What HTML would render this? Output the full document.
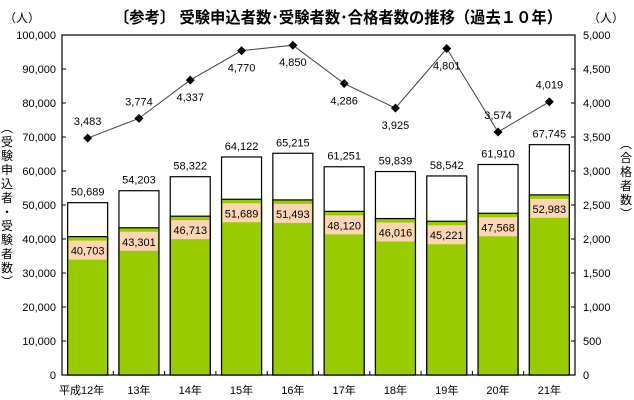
<!DOCTYPE html>
<html><head><meta charset="utf-8"><style>
body{margin:0;background:#fff;}
svg{display:block;font-family:"Liberation Sans","Noto Sans CJK JP",sans-serif;}
</style></head><body>
<svg id="c" width="634" height="400" viewBox="0 0 634 400">
<text x="338" y="23" text-anchor="middle" font-size="16" font-weight="bold" textLength="448" lengthAdjust="spacingAndGlyphs">〔参考〕 受験申込者数･受験者数･合格者数の推移（過去１０年）</text>
<text x="22" y="22" text-anchor="middle" font-size="12">（人）</text>
<text x="606" y="22" text-anchor="middle" font-size="12">（人）</text>
<g id="g"></g>
</svg>
<script>
const categories=["平成12年","13年","14年","15年","16年","17年","18年","19年","20年","21年"];
const applicants=[50689,54203,58322,64122,65215,61251,59839,58542,61910,67745];
const examinees=[40703,43301,46713,51689,51493,48120,46016,45221,47568,52983];
const passers=[3483,3774,4337,4770,4850,4286,3925,4801,3574,4019];
const leftTicks=[0,10000,20000,30000,40000,50000,60000,70000,80000,90000,100000];
const rightTicks=[0,500,1000,1500,2000,2500,3000,3500,4000,4500,5000];
const labelBelow=[false,false,true,true,true,true,true,true,false,false];
const NS="http://www.w3.org/2000/svg";
const g=document.getElementById('g');
const L=62,R=575,T=35,B=375;
const cw=(R-L)/categories.length;
const xc=i=>L+cw*(i+0.5);
const yl=v=>B-(v/100000)*(B-T);
const yr=v=>B-(v/5000)*(B-T);
const fmt=v=>v.toLocaleString('en-US');
function el(t,a,txt){const e=document.createElementNS(NS,t);for(const k in a)e.setAttribute(k,a[k]);if(txt!==undefined)e.textContent=txt;g.appendChild(e);return e;}
let e;
e=el('rect',{x:L,y:T,width:R-L,height:B-T,fill:'#fff',stroke:'#000','stroke-width':1.2});


leftTicks.forEach(v=>{
 e=el('text',{x:L-6,y:yl(v)+4,'text-anchor':'end','font-size':11},fmt(v));
 
 
 el('line',{x1:L,x2:L+4,y1:yl(v),y2:yl(v),stroke:'#000'});
});
rightTicks.forEach(v=>{
 e=el('text',{x:R+8,y:yr(v)+4,'text-anchor':'start','font-size':11},fmt(v));
 
 
 el('line',{x1:R-4,x2:R,y1:yr(v),y2:yr(v),stroke:'#000'});
});
for(let i=1;i<categories.length;i++){el('line',{x1:L+cw*i,x2:L+cw*i,y1:B,y2:B-4,stroke:'#000'});}
const bw=40;
categories.forEach((c,i)=>{
 const x=xc(i)-bw/2;
 e=el('rect',{x:x,y:yl(applicants[i]),width:bw,height:B-yl(applicants[i]),fill:'#fff',stroke:'#000','stroke-width':1.2});
 
 
 e=el('rect',{x:x,y:yl(examinees[i]),width:bw,height:B-yl(examinees[i]),fill:'#99cc00',stroke:'#000','stroke-width':1.2});
 
 
 e=el('text',{x:xc(i),y:yl(applicants[i])-7,'text-anchor':'middle','font-size':11},fmt(applicants[i]));
 
 
 e=el('rect',{x:xc(i)-19,y:yl(examinees[i])+4,width:38,height:19,fill:'#fcd5b4'});
 
 
 e=el('text',{x:xc(i),y:yl(examinees[i])+18,'text-anchor':'middle','font-size':11},fmt(examinees[i]));
 
 
 e=el('text',{x:xc(i)+(i===0?-6:0),y:394,'text-anchor':'middle','font-size':11},c);
 
 
});
e=el('polyline',{points:passers.map((v,i)=>xc(i)+','+yr(v)).join(' '),fill:'none',stroke:'#444','stroke-width':1});


passers.forEach((v,i)=>{
 const x=xc(i),y=yr(v);
 e=el('polygon',{points:`${x},${y-4.5} ${x+4.5},${y} ${x},${y+4.5} ${x-4.5},${y}`,fill:'#000'});
 
 
 e=el('text',{x:x,y:labelBelow[i]?y+21:y-13,'text-anchor':'middle','font-size':11},fmt(v));
 
 
});
function vtext(chars,x,y0,name){
 const t=el('text',{x:x,'font-size':12,'text-anchor':'middle'});
 
 
 chars.split('').forEach((ch,k)=>{const s=document.createElementNS(NS,'tspan');s.setAttribute('x',x);s.setAttribute('y',y0+k*14);s.textContent=ch;t.appendChild(s);});
}
vtext('︵受験申込者・受験者数︶',7,132,'left-axis-title');
vtext('︵合格者数︶',626,148,'right-axis-title');
</script>
</body></html>
